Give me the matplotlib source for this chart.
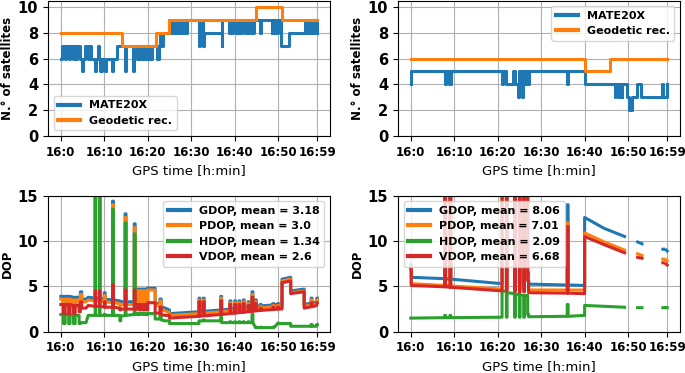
import numpy as np
import matplotlib
matplotlib.use("Agg")
import matplotlib.pyplot as plt

# time axis, minutes after 16:00
tick_min = [0, 10, 20, 30, 40, 50, 59]
tick_lab = ["16:0", "16:10", "16:20", "16:30", "16:40", "16:50", "16:59"]

# ---- number of satellites, session 1 (steps-post) ----
s1_mate_t = [0, 0.2, 0.9, 1.1, 1.8, 2.0, 2.8, 3.0, 3.6, 3.8, 4.3, 4.8, 5.0, 5.5, 6.2, 6.5,
             7.0, 7.8, 8.1, 8.5, 8.8, 9.1, 9.4, 10.2, 10.5, 11.7, 12.0, 12.9, 14.7, 15.0,
             16.6, 16.9, 17.5, 17.8, 18.2, 18.4, 18.9, 19.2, 19.7, 20.0, 20.5, 21.0, 22.1,
             22.5, 22.8, 23.1, 23.5, 24.8, 25.2, 25.4, 25.8, 26.0, 26.4, 26.6, 27.0, 27.2,
             27.6, 27.8, 28.2, 28.4, 28.8, 29.0, 31.9, 32.1, 32.7, 32.9, 37.0, 37.2, 38.8,
             39.0, 39.5, 39.7, 40.2, 40.4, 40.9, 41.1, 41.6, 41.8, 42.3, 42.5, 43.0, 43.2,
             43.7, 43.9, 44.3, 44.5, 45.9, 46.1, 48.5, 48.7, 49.1, 49.3, 49.8, 50.0, 50.6,
             52.4, 56.2, 56.5, 56.7, 57.1, 57.3, 57.7, 57.9, 58.3, 58.5, 58.9, 59.0]
s1_mate_v = [6, 7, 6, 7, 6, 7, 6, 7, 6, 7, 6, 5, 6, 7, 6, 7,
             6, 5, 6, 7, 6, 5, 6, 5, 6, 5, 6, 7, 5, 7,
             5, 7, 6, 7, 6, 7, 6, 7, 6, 7, 6, 7, 6,
             7, 8, 7, 8, 9, 8, 9, 8, 9, 8, 9, 8, 9,
             8, 9, 8, 9, 8, 9, 7, 9, 7, 8, 7, 9, 8,
             9, 8, 9, 8, 9, 8, 9, 8, 9, 8, 9, 8, 9,
             8, 9, 8, 9, 8, 9, 8, 9, 8, 9, 8, 9, 7,
             8, 9, 8, 9, 8, 9, 8, 9, 8, 9, 8, 8]
s1_geo_t = [0, 14.0, 22.0, 24.8, 44.9, 50.9, 59.0]
s1_geo_v = [8, 7, 8, 9, 10, 9, 9]

# ---- number of satellites, session 2 (steps-post) ----
s2_mate_t = [0, 0.1, 7.8, 8.1, 8.9, 9.2, 20.9, 21.2, 22.0, 23.6, 23.9, 24.7, 25.0, 25.5,
             25.8, 26.1, 26.4, 26.9, 27.2, 35.9, 36.2, 40.0, 47.0, 47.2, 47.8, 48.0, 48.5,
             48.7, 49.8, 50.1, 50.8, 52.0, 53.0, 57.8, 58.0, 58.9, 59.0]
s2_mate_v = [4, 5, 4, 5, 4, 5, 4, 5, 4, 5, 4, 3, 5, 3,
             5, 4, 5, 4, 5, 4, 5, 4, 3, 4, 3, 4, 3,
             4, 3, 2, 3, 4, 3, 4, 3, 4, 4]
s2_geo_t = [0, 40.0, 45.9, 59.0]
s2_geo_v = [6, 5, 6, 6]

# ---- DOP, session 1 ----
d1_t = [0.0, 0.6, 0.6, 1.0, 1.0, 1.8, 1.8, 2.1, 2.1, 2.9, 2.9, 3.3, 3.3, 4.2, 4.2, 4.5, 4.5,
        4.8, 4.8, 5.8, 6.3, 7.9, 7.9, 8.0, 8.0, 8.9, 8.9, 9.0, 9.0, 10.0, 10.0, 10.2, 10.2,
        11.9, 11.9, 12.1, 12.1, 13.6, 13.6, 13.8, 13.8, 14.8, 14.8, 15.0, 15.0, 16.9, 16.9,
        17.1, 17.1, 17.5, 17.5, 18.0, 18.0, 18.3, 18.3, 18.9, 18.9, 19.2, 19.2, 19.7, 19.7,
        20.0, 20.0, 21.7, 21.7, 22.8, 22.8, 23.1, 23.1, 24.0, 25.0, 25.0, 31.8, 31.8, 32.0,
        32.0, 32.8, 32.8, 33.0, 33.0, 36.8, 36.8, 37.0, 37.0, 38.9, 38.9, 39.1, 39.1, 40.0,
        40.0, 40.2, 40.2, 41.0, 41.0, 41.2, 41.2, 42.0, 42.0, 42.2, 42.2, 43.1, 43.1, 43.3,
        43.3, 44.0, 44.0, 44.2, 44.2, 44.8, 44.8, 45.0, 45.0, 45.9, 45.9, 46.1, 46.1, 48.8,
        48.8, 49.0, 49.0, 49.9, 49.9, 50.1, 50.1, 50.9, 50.9, 52.9, 52.9, 56.0, 56.0, 57.6,
        57.6, 57.8, 57.8, 58.9, 58.9, 59.0]
d1_g = [3.9, 3.9, 3.0, 3.0, 3.9, 3.9, 3.0, 3.0, 3.9, 3.8, 2.9, 2.9, 3.8, 3.8, 3.0, 3.0, 4.4,
        4.4, 3.6, 3.6, 3.8, 3.7, 16, 16, 3.7, 3.7, 16, 16, 3.7, 3.6, 4.3, 4.3, 3.6,
        3.5, 14.4, 14.4, 3.5, 3.4, 3.2, 3.2, 3.3, 3.3, 13.0, 13.0, 3.3, 3.3, 11.9,
        11.9, 3.3, 3.3, 4.7, 4.7, 3.3, 3.3, 4.7, 4.7, 3.3, 3.3, 4.7, 4.7, 3.3,
        3.3, 4.8, 4.8, 3.2, 3.0, 3.6, 3.6, 2.8, 2.6, 2.4, 2.0, 2.2, 3.7, 3.7,
        2.2, 2.25, 3.7, 3.7, 2.25, 2.4, 3.9, 3.9, 2.4, 2.5, 3.4, 3.4, 2.5, 2.55,
        3.4, 3.4, 2.55, 2.6, 3.4, 3.4, 2.6, 2.65, 3.5, 3.5, 2.65, 2.7, 3.3, 3.3,
        2.7, 2.75, 4.4, 4.4, 2.75, 2.8, 3.5, 3.5, 2.8, 2.85, 3.0, 3.0, 2.85, 2.95,
        3.1, 3.1, 2.95, 3.0, 3.1, 3.1, 3.0, 3.0, 5.8, 6.0, 4.5, 4.7, 3.0, 3.15,
        3.7, 3.7, 3.15, 3.3, 3.7, 3.7]
d1_p = [3.6, 3.6, 2.7, 2.7, 3.6, 3.6, 2.7, 2.7, 3.6, 3.5, 2.6, 2.6, 3.5, 3.5, 2.7, 2.7, 4.1,
        4.1, 3.3, 3.3, 3.5, 3.4, 16, 16, 3.4, 3.4, 16, 16, 3.4, 3.3, 4.0, 4.0, 3.3,
        3.2, 14.0, 14.0, 3.2, 3.1, 2.9, 2.9, 3.0, 3.0, 12.6, 12.6, 3.0, 3.0, 11.5,
        11.5, 3.0, 3.0, 4.5, 4.5, 3.0, 3.0, 4.5, 4.5, 3.0, 3.0, 4.5, 4.5, 3.0,
        3.0, 4.6, 4.6, 3.0, 2.8, 3.4, 3.4, 2.5, 2.3, 2.1, 1.8, 2.0, 3.5, 3.5,
        2.0, 2.05, 3.5, 3.5, 2.05, 2.2, 3.7, 3.7, 2.2, 2.3, 3.2, 3.2, 2.3, 2.35,
        3.2, 3.2, 2.35, 2.4, 3.2, 3.2, 2.4, 2.45, 3.3, 3.3, 2.45, 2.5, 3.1, 3.1,
        2.5, 2.55, 4.1, 4.1, 2.55, 2.6, 3.3, 3.3, 2.6, 2.65, 2.8, 2.8, 2.65, 2.75,
        2.9, 2.9, 2.75, 2.8, 2.9, 2.9, 2.8, 2.8, 5.6, 5.8, 4.3, 4.5, 2.8, 2.95,
        3.5, 3.5, 2.95, 3.1, 3.5, 3.5]
d1_h = [1.9, 1.9, 0.9, 0.9, 1.9, 1.9, 0.9, 0.9, 1.9, 1.8, 0.9, 0.9, 1.8, 1.8, 0.9, 0.9, 1.0,
        1.0, 1.0, 1.0, 1.8, 1.8, 16, 16, 1.8, 1.8, 16, 16, 1.8, 1.8, 1.9, 1.9, 1.8,
        1.8, 13.5, 13.5, 1.8, 1.8, 1.2, 1.2, 1.7, 1.8, 12.0, 12.0, 1.8, 1.9, 10.8,
        10.8, 1.9, 1.9, 2.0, 2.0, 1.9, 1.9, 2.0, 2.0, 1.9, 1.9, 2.0, 2.0, 1.9,
        1.9, 2.0, 2.0, 1.4, 1.4, 1.8, 1.8, 1.3, 1.2, 1.2, 0.9, 0.9, 1.2, 1.2,
        1.2, 1.2, 1.3, 1.3, 1.2, 1.2, 1.6, 1.6, 1.0, 1.0, 1.1, 1.1, 1.0, 1.0,
        1.1, 1.1, 1.0, 1.0, 1.1, 1.1, 1.0, 1.0, 1.1, 1.1, 1.0, 1.0, 1.1, 1.1,
        1.0, 1.0, 1.9, 1.9, 1.0, 0.45, 0.5, 0.5, 0.45, 0.45, 0.5, 0.5, 0.45, 0.45,
        0.5, 0.5, 0.45, 0.9, 0.95, 0.95, 0.9, 0.9, 0.9, 0.9, 0.6, 0.6, 0.6, 0.6,
        0.8, 0.8, 0.6, 0.6, 0.8, 0.8]
d1_v = [3.0, 3.0, 2.0, 2.0, 3.0, 3.0, 2.0, 2.0, 3.0, 2.9, 2.0, 2.0, 2.9, 2.9, 2.2, 2.2, 3.3,
        3.3, 2.6, 2.6, 2.9, 2.8, 4.5, 4.5, 2.8, 2.8, 4.5, 4.5, 2.8, 2.7, 3.3, 3.3, 2.7,
        2.7, 5.2, 5.2, 2.7, 2.6, 2.4, 2.4, 2.5, 2.5, 4.6, 4.6, 2.5, 2.5, 4.6,
        4.6, 2.5, 2.5, 3.0, 3.0, 2.4, 2.4, 3.0, 3.0, 2.4, 2.4, 3.0, 3.0, 2.4,
        2.4, 3.2, 3.2, 2.1, 2.0, 2.7, 2.7, 1.9, 1.8, 1.8, 1.5, 1.7, 3.3, 3.3,
        1.7, 1.75, 3.3, 3.3, 1.75, 1.9, 3.4, 3.4, 1.9, 2.0, 3.0, 3.0, 2.0, 2.05,
        3.0, 3.0, 2.05, 2.1, 3.0, 3.0, 2.1, 2.15, 3.1, 3.1, 2.15, 2.2, 2.9, 2.9,
        2.2, 2.25, 3.8, 3.8, 2.25, 2.3, 3.1, 3.1, 2.3, 2.35, 2.6, 2.6, 2.35, 2.45,
        2.7, 2.7, 2.45, 2.5, 2.7, 2.7, 2.5, 2.5, 5.4, 5.6, 4.2, 4.4, 2.6, 2.75,
        3.2, 3.2, 2.75, 2.9, 3.2, 3.2]
d1_mean = [3.18, 3.0, 1.34, 2.6]

# ---- DOP, session 2 (nan = no fix) ----
d2_t = [0.0, 0.1, 0.1, 7.8, 7.8, 8.0, 8.0, 9.0, 9.0, 9.2, 9.2, 21.0, 21.0, 22.0, 22.0, 22.15,
        22.15, 23.9, 23.9, 24.05, 24.05, 25.0, 25.0, 25.15, 25.15, 26.0, 26.0, 26.15, 26.15,
        26.9, 26.9, 27.1, 27.1, 36.0, 36.0, 36.2, 36.2, 40.0, 40.0, 44.5, 49.2, 49.2, 52.2,
        53.2, 53.2, 58.0, 58.2, 58.2, 58.8, 59.0]
d2_g = [7.4, 7.4, 6.0, 5.85, 16, 16, 5.85, 5.8, 16, 16, 5.8, 5.3, 16, 16, 5.3, 5.3,
        16, 16, 5.3, 5.3, 16, 16, 5.3, 5.3, 16, 16, 5.3, 5.3, 16,
        16, 6.5, 6.5, 5.25, 5.15, 14.0, 14.0, 5.15, 5.1, 12.6, 11.4, 10.5, np.nan, 9.9,
        9.7, np.nan, 9.1, 9.1, np.nan, 9.0, 8.9]
d2_p = [7.2, 7.2, 5.3, 5.1, 16, 16, 5.1, 5.05, 16, 16, 5.05, 4.7, 16, 16, 4.7, 4.7,
        16, 16, 4.7, 4.7, 16, 16, 4.7, 4.7, 16, 16, 4.7, 4.7, 16,
        16, 5.8, 5.8, 4.6, 4.6, 12.0, 12.0, 4.6, 4.6, 10.9, 9.9, 9.0, np.nan, 8.6,
        8.4, np.nan, 8.0, 8.0, np.nan, 7.9, 7.8]
d2_h = [1.5, 1.5, 1.5, 1.55, 1.8, 1.8, 1.55, 1.55, 1.8, 1.8, 1.55, 1.6, 4.5, 4.45, 1.6, 1.6,
        4.3, 4.2, 1.6, 1.6, 4.15, 4.1, 1.6, 1.6, 4.05, 4.0, 1.6, 1.6, 4.0,
        4.0, 1.9, 1.9, 1.65, 1.7, 3.0, 3.0, 1.7, 1.8, 2.9, 2.8, 2.7, np.nan, 2.65,
        2.65, np.nan, 2.65, 2.65, np.nan, 2.65, 2.65]
d2_v = [7.0, 7.0, 5.1, 4.95, 16, 16, 4.95, 4.9, 16, 16, 4.9, 4.5, 16, 16, 4.5, 4.5,
        16, 16, 4.45, 4.45, 16, 16, 4.4, 4.4, 16, 16, 4.4, 4.4, 16,
        16, 5.6, 5.6, 4.3, 4.25, 11.6, 11.6, 4.25, 4.2, 10.5, 9.6, 8.7, np.nan, 8.2,
        8.1, np.nan, 7.6, 7.6, np.nan, 7.45, 7.35]
d2_mean = [8.06, 7.01, 2.09, 6.68]

dop_names = ["GDOP", "PDOP", "HDOP", "VDOP"]
cols = ["C0", "C1", "C2", "C3"]
LW = 2.2

fig = plt.figure(figsize=(6.85, 3.73), dpi=100)
ax_tl = fig.add_axes([0.0701, 0.6354, 0.4117, 0.3632])
ax_tr = fig.add_axes([0.5810, 0.6354, 0.4117, 0.3632])
ax_bl = fig.add_axes([0.0701, 0.1107, 0.4117, 0.3646])
ax_br = fig.add_axes([0.5810, 0.1107, 0.4117, 0.3646])

def style(ax, ylabel, ylim, yticks):
    ax.set_xticks(tick_min)
    ax.set_xticklabels(tick_lab, fontweight="bold", fontsize=8.5)
    ax.set_yticks(yticks)
    ax.set_yticklabels([str(y) for y in yticks], fontweight="bold", fontsize=10.5)
    ax.set_ylim(*ylim)
    ax.set_xlim(-2.95, 61.95)
    ax.set_xlabel("GPS time [h:min]", fontsize=9.5)
    ax.set_ylabel(ylabel, fontweight="bold", fontsize=8.5, labelpad=3)
    ax.grid(True)

# satellites
for ax, mt, mv, gt, gv, loc in [(ax_tl, s1_mate_t, s1_mate_v, s1_geo_t, s1_geo_v, "lower left"),
                                (ax_tr, s2_mate_t, s2_mate_v, s2_geo_t, s2_geo_v, "upper right")]:
    ax.plot(mt, mv, drawstyle="steps-post", color="C0", lw=LW, label="MATE20X")
    ax.plot(gt, gv, drawstyle="steps-post", color="C1", lw=LW, label="Geodetic rec.")
    style(ax, "N.° of satellites", (0, 10.5), [0, 2, 4, 6, 8, 10])
    leg = ax.legend(loc=loc, prop={"weight": "bold", "size": 8})
    for h in leg.get_lines():
        h.set_linewidth(3)

# DOP
for ax, t, series, means, loc in [(ax_bl, d1_t, [d1_g, d1_p, d1_h, d1_v], d1_mean, "upper right"),
                                  (ax_br, d2_t, [d2_g, d2_p, d2_h, d2_v], d2_mean, "upper left")]:
    for name, vals, c, m in zip(dop_names, series, cols, means):
        ax.plot(t, vals, color=c, lw=LW, label=f"{name}, mean = {m}")
    style(ax, "DOP", (0, 15), [0, 5, 10, 15])
    leg = ax.legend(loc=loc, prop={"weight": "bold", "size": 8})
    for h in leg.get_lines():
        h.set_linewidth(3)

fig.savefig("out.png", dpi=100)
